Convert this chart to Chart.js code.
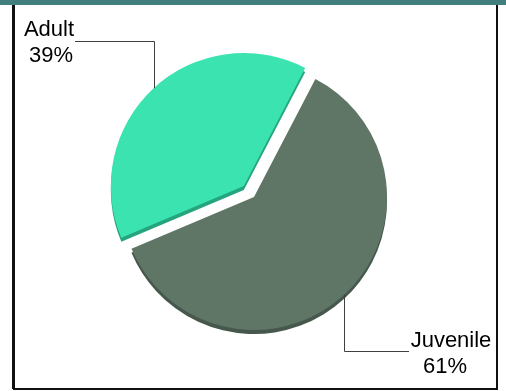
<!DOCTYPE html>
<html>
<head>
<meta charset="utf-8">
<script src="https://cdn.jsdelivr.net/npm/chart.js@4"></script>
<style>
  html, body { margin: 0; padding: 0; background: #fff; }
  #wrap { position: relative; width: 506px; height: 391px; }
</style>
</head>
<body>
<div id="wrap"><canvas id="pieChart" width="506" height="391"></canvas></div>
<script>
// Chart data
const categories = ['Juvenile', 'Adult'];
const shares = [61, 39];
const sliceColors = ['#5f7565', '#3be3b0'];
const depthColors = ['#46584b', '#25a57d'];
const explode = [0, 15];   // px the slice is pulled out

// Frame + header strip
const framePlugin = {
  id: 'frame',
  beforeDraw(chart) {
    const ctx = chart.ctx;
    ctx.save();
    ctx.fillStyle = '#fff';
    ctx.fillRect(0, 0, chart.width, chart.height);
    ctx.fillStyle = '#417f7f';
    ctx.fillRect(0, 0, chart.width, 5);
    ctx.strokeStyle = '#111';
    ctx.lineWidth = 3;
    ctx.beginPath();
    ctx.moveTo(13.5, 5);
    ctx.lineTo(13.5, 389);
    ctx.stroke();
    ctx.lineWidth = 2;
    ctx.beginPath();
    ctx.moveTo(13, 389);
    ctx.lineTo(497, 389);
    ctx.lineTo(497, 5);
    ctx.stroke();
    ctx.restore();
  }
};

function explodeShift(arc, i) {
  const p = arc.getProps(['startAngle', 'endAngle'], true);
  const mid = (p.startAngle + p.endAngle) / 2;
  return { dx: Math.cos(mid) * explode[i], dy: Math.sin(mid) * explode[i], mid };
}

// Exploded slices with a fake 3D depth (darker copy shifted down)
const slicePlugin = {
  id: 'slices',
  beforeDatasetsDraw(chart) {
    const ctx = chart.ctx;
    const meta = chart.getDatasetMeta(0);
    // depth first
    meta.data.forEach((arc, i) => {
      const s = explodeShift(arc, i);
      const orig = arc.options.backgroundColor;
      ctx.save();
      ctx.translate(s.dx, s.dy + 4);
      arc.options.backgroundColor = depthColors[i];
      arc.draw(ctx);
      arc.options.backgroundColor = orig;
      ctx.restore();
    });
    // then faces
    meta.data.forEach((arc, i) => {
      const s = explodeShift(arc, i);
      ctx.save();
      ctx.translate(s.dx, s.dy);
      arc.draw(ctx);
      ctx.restore();
    });
    return false;
  }
};

// Leader lines and labels
const labelPlugin = {
  id: 'leaders',
  afterDraw(chart) {
    const ctx = chart.ctx;
    const meta = chart.getDatasetMeta(0);
    const total = shares.reduce((a, b) => a + b, 0);
    ctx.save();
    ctx.font = '22px "Liberation Sans", Arial, sans-serif';
    ctx.fillStyle = '#000';
    ctx.strokeStyle = '#404040';
    ctx.lineWidth = 1;
    meta.data.forEach((arc, i) => {
      const p = arc.getProps(['x', 'y', 'outerRadius'], true);
      const s = explodeShift(arc, i);
      const ax = p.x + s.dx + Math.cos(s.mid) * p.outerRadius;
      const ay = p.y + s.dy + Math.sin(s.mid) * p.outerRadius;
      const pct = Math.round(shares[i] / total * 100) + '%';
      const px = Math.round(ax) + 0.5;
      ctx.beginPath();
      ctx.textAlign = 'center';
      if (ay < p.y) {
        // label above-left
        const ly = 41.5;
        ctx.moveTo(px, ay);
        ctx.lineTo(px, ly);
        ctx.lineTo(75, ly);
        ctx.stroke();
        ctx.fillText(categories[i], 49, 36);
        ctx.fillText(pct, 51, 62);
      } else {
        // label below-right
        const ly = 351.5;
        ctx.moveTo(px, ay);
        ctx.lineTo(px, ly);
        ctx.lineTo(409, ly);
        ctx.stroke();
        ctx.fillText(categories[i], 451, 347);
        ctx.fillText(pct, 445, 373);
      }
    });
    ctx.restore();
  }
};

new Chart(document.getElementById('pieChart'), {
  type: 'pie',
  data: {
    labels: categories,
    datasets: [{
      data: shares,
      backgroundColor: sliceColors,
      borderWidth: 0,
      hoverOffset: 0
    }]
  },
  options: {
    responsive: false,
    animation: false,
    events: [],
    rotation: 27.5,
    layout: {
      padding: { left: 100, right: 98, top: 64, bottom: 61 }
    },
    plugins: {
      legend: { display: false },
      tooltip: { enabled: false },
      title: { display: false }
    }
  },
  plugins: [framePlugin, slicePlugin, labelPlugin]
});
</script>
</body>
</html>
